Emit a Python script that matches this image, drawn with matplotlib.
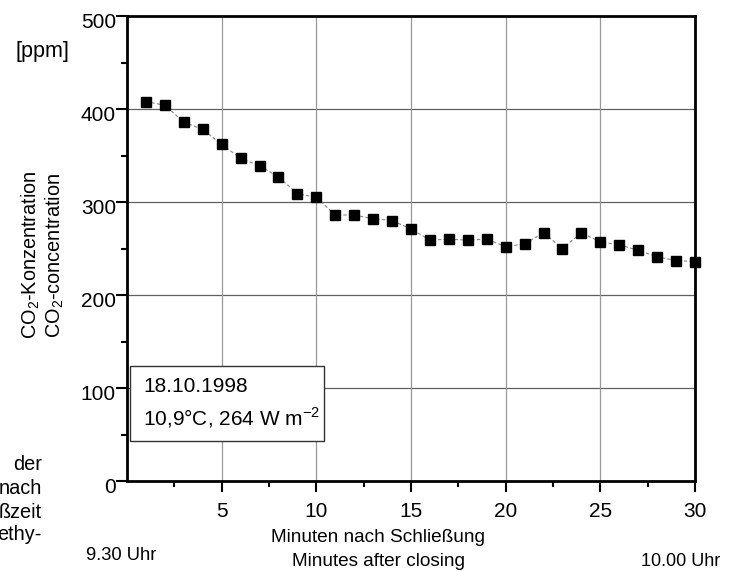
import matplotlib
matplotlib.use("Agg")
import matplotlib.pyplot as plt
import matplotlib.transforms as mtransforms
from matplotlib.patches import Rectangle

plt.rcParams['font.family'] = ['Liberation Sans', 'DejaVu Sans']

minutes = list(range(1, 31))
co2 = [408, 404, 386, 378, 362, 347, 339, 327, 309, 305,
       286, 286, 282, 280, 271, 259, 260, 259, 260, 252,
       255, 267, 250, 267, 257, 254, 248, 241, 237, 236]
x_ticks = [5, 10, 15, 20, 25, 30]
y_ticks = [0, 100, 200, 300, 400, 500]

W, H = 738, 571
fig = plt.figure(figsize=(W / 100, H / 100), dpi=100)
ax = fig.add_axes([127 / W, 1 - 481 / H, 568 / W, 465 / H])

def px(x, y):
    return x / W, 1 - y / H

ax.set_xlim(0, 30)
ax.set_ylim(0, 500)
ax.set_xticks(x_ticks)
ax.set_xticks([2.5, 7.5, 12.5, 17.5, 22.5, 27.5], minor=True)
ax.set_yticks(y_ticks)
ax.set_yticks([50, 150, 250, 350, 450], minor=True)
ax.tick_params(axis='both', which='major', direction='out', length=8, width=1.5,
               labelsize=15, color='black')
ax.tick_params(axis='both', which='minor', direction='out', length=4.5, width=1.5)
ax.tick_params(axis='y', pad=0)
ax.tick_params(axis='x', pad=7)
off = mtransforms.ScaledTranslation(0, -3.5 / 72, fig.dpi_scale_trans)
for lab in ax.get_yticklabels():
    lab.set_transform(lab.get_transform() + off)
for s in ax.spines.values():
    s.set_linewidth(2)
    s.set_color('black')

for v in [100, 200, 300, 400]:
    ax.axhline(v, color='#606060', lw=0.9, zorder=1)
for v in [5, 10, 15, 20, 25]:
    ax.axvline(v, color='#999999', lw=0.9, zorder=1)

ax.plot(minutes, co2, color='#888888', lw=0.8, ls=(0, (3, 2)), zorder=2,
        marker='s', markersize=7, markerfacecolor='black', markeredgecolor='black',
        clip_on=False)

# legend box
fig.patches.append(Rectangle(px(130, 441), 194 / W, 75 / H, transform=fig.transFigure,
                             facecolor='white', edgecolor='#333333', lw=1, zorder=5))
fig.text(*px(143, 387), '18.10.1998', fontsize=15, va='center', ha='left', zorder=6)
fig.text(*px(143, 418), '10,9°C, 264 W m$^{\\mathregular{-2}}$', fontsize=15,
         va='center', ha='left', zorder=6)

fig.text(*px(42, 51), '[ppm]', fontsize=15.5, ha='center', va='center')
fig.text(*px(31, 255), 'CO$_{\\mathregular{2}}$-Konzentration', fontsize=14.3,
         rotation=90, ha='center', va='center')
fig.text(*px(55, 255), 'CO$_{\\mathregular{2}}$-concentration', fontsize=14.3,
         rotation=90, ha='center', va='center')

for t, y in [('der', 464), ('nach', 488), ('ßzeit', 512), ('ethy-', 534)]:
    fig.text(*px(42, y), t, fontsize=14.3, ha='right', va='center')

fig.text(*px(121, 556), '9.30 Uhr', fontsize=13.2, ha='center', va='center')
fig.text(*px(681, 562), '10.00 Uhr', fontsize=13, ha='center', va='center')
fig.text(*px(378, 538), 'Minuten nach Schließung', fontsize=13.7, ha='center', va='center')
fig.text(*px(378, 561), 'Minutes after closing', fontsize=13.7, ha='center', va='center')

fig.savefig('out.png', dpi=100)
